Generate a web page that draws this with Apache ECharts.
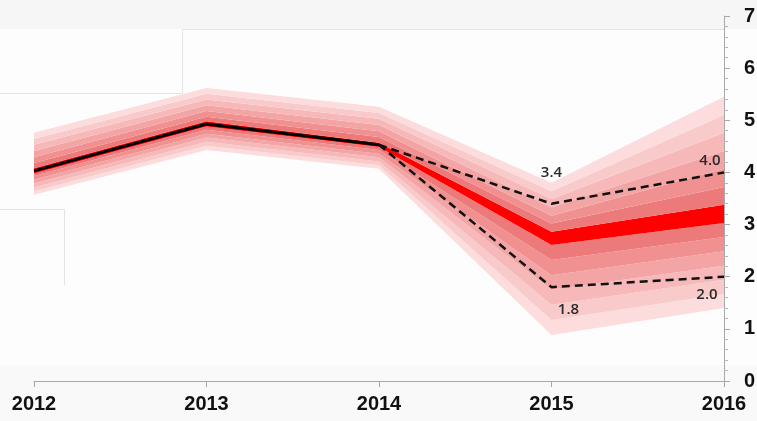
<!DOCTYPE html>
<html>
<head>
<meta charset="utf-8">
<script src="https://cdn.jsdelivr.net/npm/echarts@6/dist/echarts.min.js"></script>
<style>
html,body{margin:0;padding:0;background:#fdfdfd;}
#chart{width:757px;height:421px;}
</style>
</head>
<body>
<div id="chart"></div>
<script>
const years = ['2012', '2013', '2014', '2015', '2016'];
const yTicks = [0, 1, 2, 3, 4, 5, 6, 7];
const actual = [4.03, 4.93, 4.53, null, null];
const upperPath = [null, null, 4.53, 3.4, 4.0];
const lowerPath = [null, null, 4.53, 1.8, 2.0];
// fan band edges, bottom (outer lower) to top (outer upper)
const edge0 = [3.57, 4.43, 4.07, 0.88, 1.40];
const edge1 = [3.64, 4.51, 4.14, 1.17, 1.67];
const edge2 = [3.71, 4.59, 4.21, 1.46, 1.94];
const edge3 = [3.79, 4.67, 4.29, 1.75, 2.21];
const edge4 = [3.86, 4.74, 4.36, 2.03, 2.49];
const edge5 = [3.93, 4.82, 4.43, 2.32, 2.76];
const edge6 = [3.98, 4.88, 4.49, 2.61, 3.03];
const edge7 = [4.08, 4.98, 4.57, 2.86, 3.38];
const edge8 = [4.18, 5.07, 4.68, 3.02, 3.72];
const edge9 = [4.29, 5.18, 4.79, 3.17, 4.07];
const edge10 = [4.41, 5.29, 4.91, 3.33, 4.41];
const edge11 = [4.53, 5.40, 5.03, 3.49, 4.76];
const edge12 = [4.64, 5.51, 5.14, 3.64, 5.10];
const edge13 = [4.76, 5.62, 5.26, 3.80, 5.45];
const bandColors = ['#fcdcdc', '#f9caca', '#f6b8b8', '#f3a5a5', '#f09090', '#ed7a7a', '#ff0000',
                    '#ed7a7a', '#f09090', '#f3a5a5', '#f6b8b8', '#f9caca', '#fcdcdc'];
const pathLabels = {upper: {3: 'top', 4: 'tl'}, lower: {3: 'br', 4: 'bl'}};

const edges = [edge0, edge1, edge2, edge3, edge4, edge5, edge6, edge7, edge8, edge9, edge10, edge11, edge12, edge13];

const series = [];
series.push({
  type: 'line', stack: 'fan', data: edge0, symbol: 'none', silent: true,
  lineStyle: {width: 0, opacity: 0}, z: 1
});
for (let i = 1; i < edges.length; i++) {
  series.push({
    type: 'line', stack: 'fan', symbol: 'none', silent: true,
    data: edges[i].map((v, j) => +(v - edges[i - 1][j]).toFixed(4)),
    lineStyle: {width: 0, opacity: 0},
    areaStyle: {color: bandColors[i - 1], opacity: 1},
    z: 1
  });
}

const offsets = {
  top: [0, -31], tl: [-14, -12], br: [17, 23], bl: [-17, 18]
};
function pathData(arr, key) {
  return arr.map((v, j) => {
    const pos = pathLabels[key][j];
    if (v === null || !pos) return v;
    return {
      value: v,
      label: {
        show: true, position: 'inside', offset: offsets[pos],
        formatter: v.toFixed(1),
        fontFamily: 'Open Sans', fontSize: 15, fontWeight: 600, color: '#2a2a2a'
      }
    };
  });
}
const pathCommon = {
  type: 'line', symbol: 'circle', symbolSize: 1, showSymbol: true, z: 5,
  itemStyle: {color: 'rgba(0,0,0,0)', borderWidth: 0},
  lineStyle: {color: '#111', width: 2.5, type: [8, 5]},
  label: {show: false}
};
series.push(Object.assign({}, pathCommon, {data: pathData(upperPath, 'upper')}));
series.push(Object.assign({}, pathCommon, {data: pathData(lowerPath, 'lower')}));
series.push({
  type: 'line', data: actual, symbol: 'none', z: 6,
  lineStyle: {color: '#000', width: 3}
});

const chart = echarts.init(document.getElementById('chart'), null, {renderer: 'canvas'});
chart.setOption({
  animation: false,
  backgroundColor: '#fdfdfd',
  graphic: [
    {type: 'rect', z: -10, silent: true, shape: {x: 0, y: 0, width: 757, height: 29}, style: {fill: '#f6f6f6'}},
    {type: 'rect', z: -10, silent: true, shape: {x: 0, y: 365, width: 757, height: 56}, style: {fill: '#f9f9f9'}},
    {type: 'polyline', z: -9, silent: true, shape: {points: [[0, 93.5], [182.5, 93.5], [182.5, 29.5], [724, 29.5]]}, style: {stroke: '#e4e4e4', lineWidth: 1, fill: null}},
    {type: 'polyline', z: -9, silent: true, shape: {points: [[0, 209.5], [64.5, 209.5], [64.5, 285]]}, style: {stroke: '#e4e4e4', lineWidth: 1, fill: null}}
  ],
  grid: {left: 34, right: 33, top: 16, bottom: 40, containLabel: false, outerBoundsMode: 'none'},
  xAxis: {
    type: 'category', data: years, boundaryGap: false,
    axisLine: {show: true, lineStyle: {color: '#a8a8a8', width: 1}},
    axisTick: {show: true, alignWithLabel: true, length: 6, lineStyle: {color: '#a8a8a8'}},
    axisLabel: {margin: 13, fontFamily: 'Liberation Sans', fontWeight: 'bold', fontSize: 20, color: '#111'},
    splitLine: {show: false}
  },
  yAxis: {
    type: 'value', position: 'right', min: yTicks[0], max: yTicks[yTicks.length - 1], interval: 1,
    axisLine: {show: true, lineStyle: {color: '#a8a8a8', width: 1}},
    axisTick: {show: true, length: 6, lineStyle: {color: '#a8a8a8'}},
    minorTick: {show: true, splitNumber: 5, length: 4, lineStyle: {color: '#b8b8b8'}},
    axisLabel: {margin: 20, fontFamily: 'Liberation Sans', fontWeight: 'bold', fontSize: 20, color: '#111'},
    splitLine: {show: false}
  },
  series: series
});
</script>
</body>
</html>
